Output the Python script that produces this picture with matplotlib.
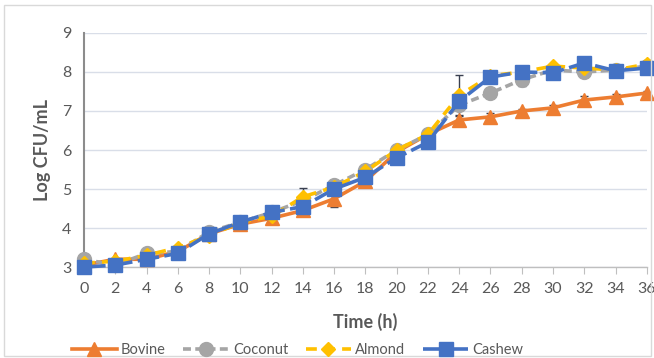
import matplotlib
matplotlib.use("Agg")
import matplotlib.pyplot as plt
from matplotlib.patches import Rectangle
import numpy as np

time_h = [0, 2, 4, 6, 8, 10, 12, 14, 16, 18, 20, 22, 24, 26, 28, 30, 32, 34, 36]

bovine = [3.05, 3.2, 3.2, 3.4, 3.85, 4.1, 4.25, 4.45, 4.75, 5.2, 5.95, 6.4, 6.77, 6.85, 7.0, 7.08, 7.28, 7.36, 7.46]
coconut = [3.2, 3.05, 3.35, 3.4, 3.9, 4.15, 4.4, 4.7, 5.1, 5.5, 6.0, 6.4, 7.15, 7.46, 7.8, 8.05, 8.0, 8.05, 8.15]
almond = [3.1, 3.15, 3.3, 3.5, 3.8, 4.15, 4.3, 4.8, 5.05, 5.45, 6.0, 6.4, 7.4, 7.9, 8.0, 8.15, 8.1, 8.05, 8.2]
cashew = [3.0, 3.05, 3.2, 3.35, 3.85, 4.15, 4.4, 4.55, 5.0, 5.3, 5.8, 6.2, 7.25, 7.87, 8.0, 7.98, 8.23, 8.03, 8.1]

bovine_err = [0.02, 0.03, 0.03, 0.03, 0.05, 0.05, 0.05, 0.08, 0.22, 0.05, 0.05, 0.08, 0.12, 0.1, 0.05, 0.08, 0.1, 0.08, 0.05]
coconut_err = [0.05, 0.05, 0.05, 0.05, 0.05, 0.05, 0.05, 0.05, 0.05, 0.05, 0.05, 0.05, 0.05, 0.05, 0.15, 0.05, 0.05, 0.05, 0.05]
almond_err = [0.02, 0.02, 0.02, 0.02, 0.05, 0.02, 0.05, 0.22, 0.05, 0.05, 0.05, 0.05, 0.52, 0.05, 0.05, 0.05, 0.05, 0.05, 0.05]
cashew_err = [0.02, 0.02, 0.02, 0.02, 0.02, 0.02, 0.02, 0.05, 0.05, 0.05, 0.05, 0.05, 0.05, 0.05, 0.05, 0.05, 0.05, 0.05, 0.05]

series = [
    ("Bovine", bovine, bovine_err, "#ED7D31", "^", "-", 10),
    ("Coconut", coconut, coconut_err, "#A5A5A5", "o", (0, (2.2, 1.2)), 10),
    ("Almond", almond, almond_err, "#FFC000", "D", (0, (3, 2)), 7),
    ("Cashew", cashew, cashew_err, "#4472C4", "s", (0, (6, 1.5)), 10.5),
]

plt.rcParams['font.family'] = ['Lato', 'DejaVu Sans']

fig = plt.figure(figsize=(6.54, 3.58), dpi=100)
fig.patches.append(Rectangle((0.006, 0.006), 0.99, 0.98, transform=fig.transFigure,
                             fill=False, edgecolor="#D9D9D9", linewidth=1))
ax = fig.add_axes([0.1284, 0.254, 0.8606, 0.654])

for name, vals, err, color, marker, ls, ms in series:
    ax.errorbar(time_h, vals, yerr=err, fmt="none", ecolor="#3A4050",
                elinewidth=1, capsize=3, capthick=1, zorder=2)
    ax.plot(time_h, vals, color=color, linestyle=ls, linewidth=2.6,
            marker=marker, markersize=ms, markerfacecolor=color,
            markeredgecolor=color, label=name, zorder=3, clip_on=False)

ax.set_xlim(0, 36)
ax.set_ylim(3, 9)
ax.set_xticks(range(0, 37, 2))
ax.set_yticks(range(3, 10))
ax.grid(axis="y", color="#D9DEE8", linewidth=1)
ax.set_axisbelow(True)
for s in ["top", "right"]:
    ax.spines[s].set_visible(False)
ax.spines["left"].set_color("#8C8C8C")
ax.spines["left"].set_linewidth(1.5)
ax.spines["bottom"].set_color("#BFBFBF")
ax.spines["bottom"].set_linewidth(1)
ax.tick_params(axis="x", direction="out", length=5, color="#BFBFBF",
               labelsize=11.5, labelcolor="#595959", pad=6)
ax.tick_params(axis="y", length=0, labelsize=11.5, labelcolor="#595959", pad=9)

ax.set_xlabel("Time (h)", fontsize=13, fontweight="bold", color="#595959", labelpad=12)
ax.set_ylabel("Log CFU/mL", fontsize=13, fontweight="bold", color="#595959", labelpad=8)

handles, labels = ax.get_legend_handles_labels()
fig.legend(handles, labels, loc="lower center", bbox_to_anchor=(0.455, -0.035), ncol=4,
           frameon=False, fontsize=10.5, labelcolor="#595959", handlelength=3.1,
           columnspacing=1.2, handletextpad=0.3)

fig.savefig("out.png", dpi=100)
